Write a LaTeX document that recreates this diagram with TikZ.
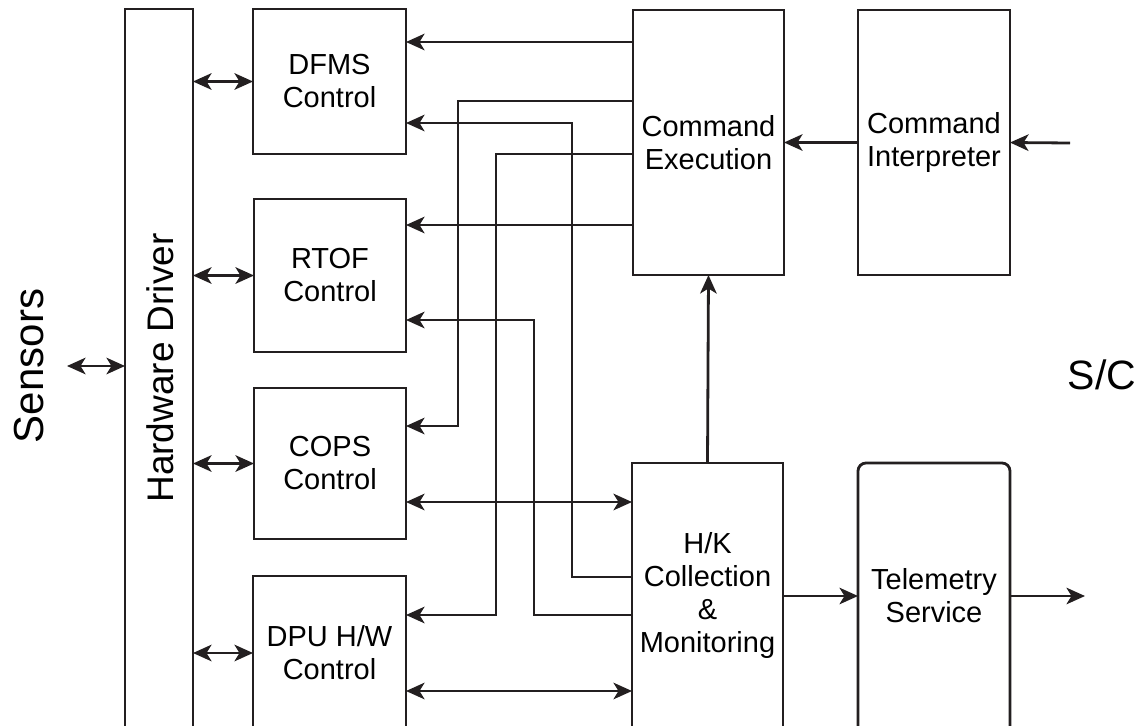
\documentclass[tikz,border=0pt]{standalone}
\usepackage{fontspec}
\setmainfont{Liberation Sans}
\usetikzlibrary{arrows.meta}
\definecolor{ink}{RGB}{35,31,32}
\begin{document}
\begin{tikzpicture}[x=1pt,y=-1pt,
  box/.style={draw=ink, line width=2.8pt, inner sep=0pt, outer sep=0pt, align=center,
    font=\fontsize{29}{33}\selectfont},
  lbl/.style={inner sep=0pt, align=center, font=\fontsize{29}{33}\selectfont},
  tip/.tip={Stealth[length=18.5pt,width=16.5pt,inset=5pt]},
  conn/.style={draw=ink, line width=2.8pt, -tip},
  dconn/.style={draw=ink, line width=2.8pt, tip-tip}]
\useasboundingbox (0,0) rectangle (1144,726);
\clip (0,0) rectangle (1144,726);

% boxes
\node[box, minimum width=68pt, minimum height=791pt] (HD) at (159,404.5) {};
\node[lbl, rotate=90, font=\fontsize{37}{40}\selectfont] (hdtxt) at (160,368) {Hardware Driver};
\node[lbl, rotate=90, font=\fontsize{42}{46}\selectfont] (sens) at (29,366) {Sensors};

\node[box, minimum width=153pt, minimum height=145pt] (DFMS) at (329.5,81.5) {DFMS\\Control};
\node[box, minimum width=152pt, minimum height=153pt] (RTOF) at (330,275.5) {RTOF\\Control};
\node[box, minimum width=152pt, minimum height=151pt] (COPS) at (330,463.5) {COPS\\Control};
\node[box, minimum width=153pt, minimum height=224pt] (DPU) at (329.5,688) {};
\node[lbl] (dputxt) at (329.5,653) {DPU H/W\\Control};

\node[box, minimum width=151pt, minimum height=265pt] (CE) at (708.5,142.5) {Command\\Execution};
\node[box, minimum width=152pt, minimum height=265pt] (CI) at (934,142.5) {Command\\Interpreter};
\node[box, minimum width=151pt, minimum height=337pt] (HK) at (707.5,631.5) {};
\node[lbl] (hktxt) at (707.5,595) {H/K\\Collection\\\&\\Monitoring};
\node[box, rounded corners=8pt, minimum width=152pt, minimum height=337pt] (TS) at (934,631.5) {};
\node[lbl] (tstxt) at (934,596) {Telemetry\\Service};

\node[lbl, font=\fontsize{41}{44}\selectfont] (sc) at (1102,375) {S/C};

% free ends
\coordinate (sensL) at (67,366);
\coordinate (scin) at (1070,143);
\coordinate (scout) at (1085,596);

% sensors and hardware driver links
\draw[dconn] (sensL) -- (sensL -| HD.west);
\draw[dconn] (HD.east |- DFMS.west) -- (DFMS.west);
\draw[dconn] (HD.east |- RTOF.west) -- (RTOF.west);
\draw[dconn] (HD.east |- COPS.west) -- (COPS.west);
\draw[dconn] (HD.east |- dputxt) -- (DPU.west |- dputxt);

% command path
\draw[conn] (scin) -- (CI.east);
\draw[conn] (CI.west) -- (CE.east);
\draw[conn] (HK.north) -- (CE.south);
\draw[conn] (HK.east |- tstxt) -- (TS.west |- tstxt);
\draw[conn] (TS.east |- scout) -- (scout);

% command execution to controls
\draw[conn] (CE.west |- 0,42) -- (DFMS.east |- 0,42);
\draw[conn] (CE.west |- 0,101) -- (458,101) -- (458,426) -- (COPS.east |- 0,426);
\draw[conn] (CE.west |- 0,154) -- (496,154) -- (496,615) -- (DPU.east |- 0,615);
\draw[conn] (CE.west |- 0,225) -- (RTOF.east |- 0,225);

% controls to H/K
\draw[conn] (HK.west |- 0,577) -- (572,577) -- (572,123) -- (DFMS.east |- 0,123);
\draw[conn] (HK.west |- 0,615) -- (534,615) -- (534,320) -- (RTOF.east |- 0,320);
\draw[dconn] (COPS.east |- 0,502) -- (HK.west |- 0,502);
\draw[dconn] (DPU.east |- 0,691) -- (HK.west |- 0,691);
\end{tikzpicture}
\end{document}
